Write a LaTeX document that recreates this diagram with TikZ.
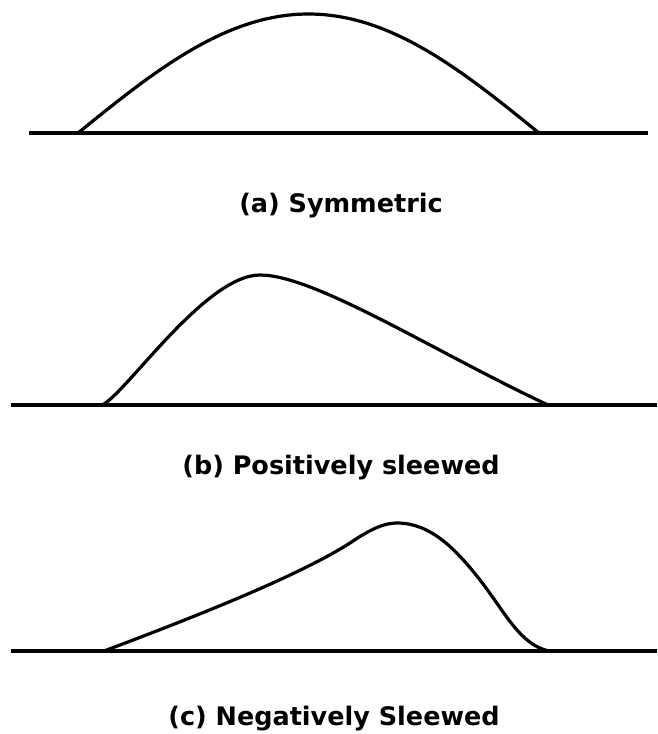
\documentclass[tikz,border=0pt]{standalone}
\usepackage{fontspec}
\setmainfont{DejaVu Sans}
\usepackage{tikz}

\begin{document}
\begin{tikzpicture}[x=1pt, y=-1pt, line width=3.2pt,
  caption/.style={font=\fontsize{25.5}{30}\selectfont\bfseries, inner sep=0pt}]
  \useasboundingbox (0,0) rectangle (657,734);
  % (a) symmetric
  \draw (29,133) -- (648,133);
  \draw[smooth] plot[domain=78:539, samples=60] (\x, {133-119*sin((\x-78)/461*180)});
  \node[caption] (capa) at (341,206) {(a) Symmetric};
  % (b) positive skew
  \draw (11,405) -- (657,405);
  \draw (102,405) .. controls (125,395) and (205,275) .. (260,275)
    .. controls (315,275) and (435,352) .. (548,405);
  \node[caption] (capb) at (341,468) {(b) Positively sleewed};
  % (c) negative skew
  \draw (11,651) -- (657,651);
  \draw (104,651) .. controls (200,615) and (300,575) .. (350,543)
    .. controls (372,528) and (385,523) .. (397,523)
    .. controls (430,523) and (455,548) .. (480,580)
    .. controls (505,612) and (520,645) .. (549,651);
  \node[caption] (capc) at (334,719) {(c) Negatively Sleewed};
\end{tikzpicture}
\end{document}
